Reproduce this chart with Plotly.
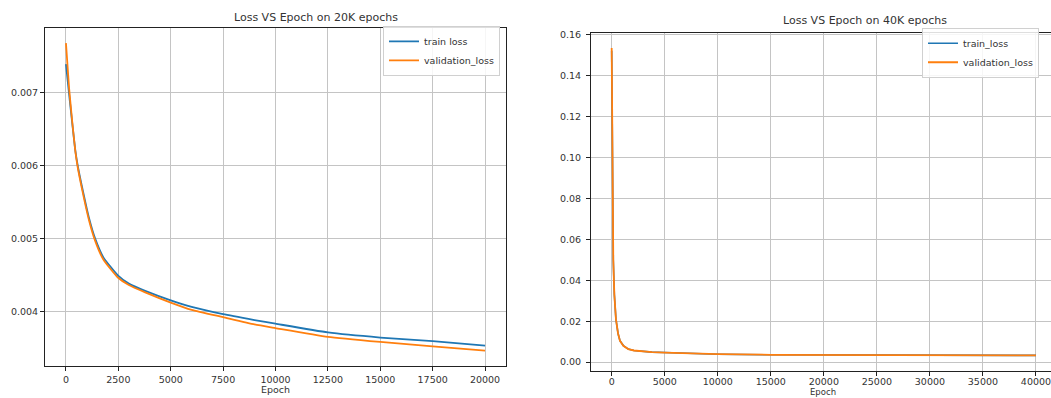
import plotly.graph_objects as go

W, H = 1051, 398

# ---- data ----
epochs_20k = [0, 150, 300, 450, 560, 750, 1100, 1390, 1785, 2490, 3000, 3780, 5000,
              6000, 7500, 9000, 10000, 12500, 15000, 17500, 20000]
train_20k = [0.00739, 0.00698, 0.00658, 0.00620, 0.00600, 0.00573, 0.00528, 0.00500,
             0.00474, 0.00449, 0.00438, 0.00428, 0.00415, 0.00406, 0.00396, 0.00388,
             0.00383, 0.00371, 0.00364, 0.00359, 0.00353]
val_20k = [0.00768, 0.00706, 0.00660, 0.00619, 0.00598, 0.00570, 0.00525, 0.00497,
           0.00471, 0.00446, 0.00436, 0.00426, 0.00412, 0.00402, 0.00392, 0.00382,
           0.00377, 0.00365, 0.00358, 0.00352, 0.00346]

epochs_40k = [0, 50, 150, 250, 400, 600, 782, 1100, 1565, 2100, 2830, 3800, 5000, 7500,
              10000, 15000, 20000, 25000, 30000, 35000, 40000]
train_40k = [0.1520, 0.0990, 0.0500, 0.0330, 0.0210, 0.0140, 0.0105, 0.0081, 0.0064,
             0.0057, 0.0053, 0.0049, 0.0047, 0.0042, 0.0039, 0.0036, 0.0035, 0.0034,
             0.0034, 0.0033, 0.0033]
val_40k = [0.1533, 0.1000, 0.0500, 0.0330, 0.0210, 0.0140, 0.0104, 0.0080, 0.0064,
           0.0057, 0.0053, 0.0049, 0.0047, 0.0042, 0.0039, 0.0036, 0.0035, 0.0034,
           0.0034, 0.0033, 0.0033]

ticks_20k = [0, 2500, 5000, 7500, 10000, 12500, 15000, 17500, 20000]
ticks_40k = [0, 5000, 10000, 15000, 20000, 25000, 30000, 35000, 40000]
yticks_20k = [0.004, 0.005, 0.006, 0.007]
yticks_40k = [0.00, 0.02, 0.04, 0.06, 0.08, 0.10, 0.12, 0.14, 0.16]

BLUE = "#1f77b4"
ORANGE = "#ff7f0e"
FONT = "DejaVu Sans"
TXT = "#333333"

fig = go.Figure()
fig.add_trace(go.Scatter(x=epochs_20k, y=train_20k, mode="lines", name="train loss",
                         line=dict(color=BLUE, width=1.8, shape="spline", smoothing=0.5),
                         xaxis="x", yaxis="y", legend="legend"))
fig.add_trace(go.Scatter(x=epochs_20k, y=val_20k, mode="lines", name="validation_loss",
                         line=dict(color=ORANGE, width=1.8, shape="spline", smoothing=0.5),
                         xaxis="x", yaxis="y", legend="legend"))
fig.add_trace(go.Scatter(x=epochs_40k, y=train_40k, mode="lines", name="train_loss",
                         line=dict(color=BLUE, width=1.6),
                         xaxis="x2", yaxis="y2", legend="legend2"))
fig.add_trace(go.Scatter(x=epochs_40k, y=val_40k, mode="lines", name="validation_loss",
                         line=dict(color=ORANGE, width=1.8),
                         xaxis="x2", yaxis="y2", legend="legend2"))


def px_x(p):
    return p / W


def px_y(p):
    return 1 - p / H


axis_common = dict(showgrid=True, gridcolor="#c4c4c4", gridwidth=1, showline=True,
                   linecolor="#222222", linewidth=1, ticks="outside", ticklen=4,
                   tickcolor="#222222", zeroline=False, ticklabeloverflow="allow",
                   tickfont=dict(family=FONT, size=9.5, color=TXT))

fig.update_layout(
    width=W, height=H, margin=dict(l=0, r=0, t=0, b=0),
    paper_bgcolor="white", plot_bgcolor="white", showlegend=True,
    xaxis=dict(domain=[px_x(45), px_x(506)], range=[-1000, 21000], tickvals=ticks_20k,
               tickformat="d", mirror=True, anchor="y", **axis_common),
    yaxis=dict(domain=[px_y(366), px_y(24)], range=[0.003245, 0.00789], tickvals=yticks_20k,
               tickformat=".3f", mirror=True, anchor="x", **axis_common),
    xaxis2=dict(domain=[px_x(591), 1.0], range=[-1950, 41416], tickvals=ticks_40k,
                tickformat="d", mirror=True, anchor="y2", ticklabelstandoff=-2,
                **axis_common),
    yaxis2=dict(domain=[px_y(370.7), px_y(29)], range=[-0.0043, 0.1608], tickvals=yticks_40k,
                tickformat=".2f", mirror=False, anchor="x2", ticklabelstandoff=3,
                **axis_common),
    legend=dict(x=px_x(500), y=px_y(22), xanchor="right", yanchor="top",
                bgcolor="rgba(255,255,255,0.85)", bordercolor="#d0d0d0", borderwidth=1,
                font=dict(family=FONT, size=9.5, color=TXT), itemwidth=30,
                tracegroupgap=2),
    legend2=dict(x=px_x(922), y=px_y(24), xanchor="left", yanchor="top",
                 bgcolor="rgba(255,255,255,0.85)", bordercolor="#d0d0d0", borderwidth=1,
                 font=dict(family=FONT, size=9.5, color=TXT), itemwidth=30,
                 tracegroupgap=0),
    annotations=[
        dict(text="Loss VS Epoch on 20K epochs", x=px_x(316), y=px_y(14), xref="paper",
             yref="paper", showarrow=False, xanchor="center", yanchor="middle",
             font=dict(family=FONT, size=11, color=TXT)),
        dict(text="Loss VS Epoch on 40K epochs", x=px_x(865), y=px_y(17), xref="paper",
             yref="paper", showarrow=False, xanchor="center", yanchor="middle",
             font=dict(family=FONT, size=11, color=TXT)),
        dict(text="Epoch", x=px_x(275), y=px_y(389), xref="paper", yref="paper",
             showarrow=False, xanchor="center", yanchor="middle",
             font=dict(family=FONT, size=9.5, color=TXT)),
        dict(text="Epoch", x=px_x(823), y=0, xref="paper", yref="paper",
             showarrow=False, xanchor="center", yanchor="bottom", borderpad=0,
             font=dict(family=FONT, size=8.5, color=TXT)),
    ],
)

fig.write_html(
    "out.html",
    config={"displayModeBar": False},
    post_script="document.body.style.margin='0px';document.body.style.overflow='hidden';",
)
